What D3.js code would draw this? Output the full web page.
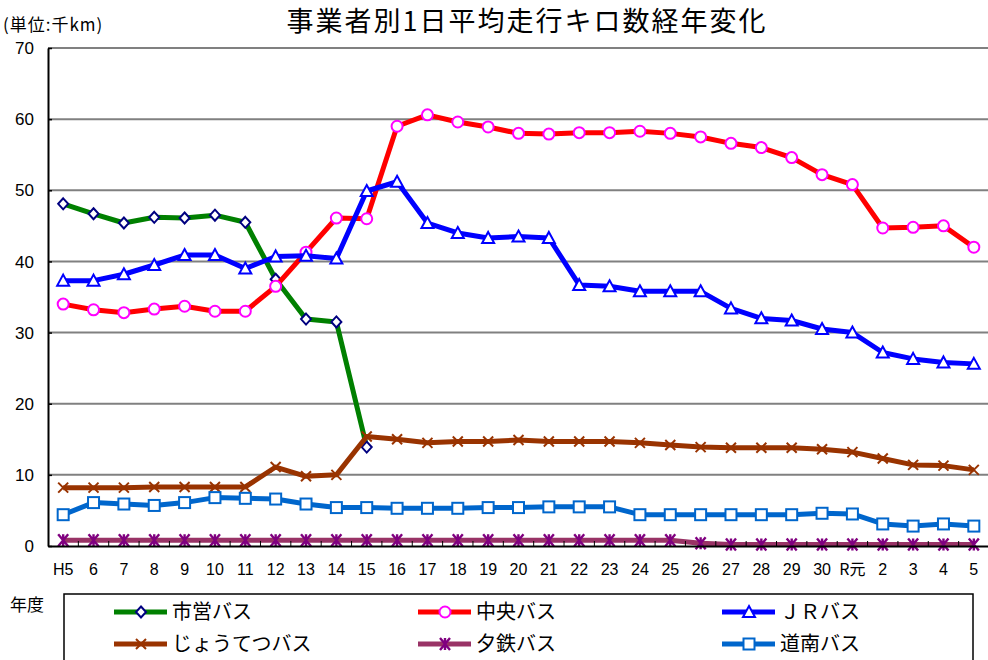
<!DOCTYPE html>
<html lang="ja">
<head>
<meta charset="UTF-8">
<title>事業者別1日平均走行キロ数経年変化</title>
<style>
  body { margin: 0; background: #fff; }
  svg { display: block; }
  .jp { font-family: "Noto Sans CJK JP", "Noto Sans", sans-serif; }
  .num { font-family: "Liberation Sans", Arial, sans-serif; }
</style>
</head>
<body>
<svg id="chart" width="988" height="660"></svg>
<script src="https://cdn.jsdelivr.net/npm/d3@7"></script>
<script>
// 年度
var years = ["H5","6","7","8","9","10","11","12","13","14","15","16","17","18","19","20",
             "21","22","23","24","25","26","27","28","29","30","R元","2","3","4","5"];

// 各事業者の1日平均走行キロ (千km)
var shiei    = [48.1,46.7,45.4,46.2,46.1,46.5,45.5,37.5,31.9,31.5,13.9];
var chuo     = [34.0,33.2,32.8,33.3,33.7,33.0,33.0,36.5,41.3,46.1,46.0,59.0,60.6,59.6,58.9,58.0,
                57.9,58.1,58.1,58.3,58.0,57.5,56.6,56.0,54.6,52.2,50.8,44.7,44.8,45.0,42.0];
var jr       = [37.3,37.3,38.2,39.5,40.9,40.9,39.0,40.7,40.8,40.4,49.9,51.2,45.4,44.0,43.3,43.5,
                43.3,36.7,36.5,35.8,35.8,35.8,33.4,32.0,31.7,30.5,30.0,27.2,26.3,25.8,25.6];
var joutetsu = [8.2,8.2,8.2,8.3,8.3,8.3,8.3,11.1,9.8,10.0,15.4,15.0,14.5,14.7,14.7,14.9,
                14.7,14.7,14.7,14.5,14.2,13.9,13.8,13.8,13.8,13.6,13.2,12.3,11.4,11.3,10.7];
var yutetsu  = [0.8,0.8,0.8,0.8,0.8,0.8,0.8,0.8,0.8,0.8,0.8,0.8,0.8,0.8,0.8,0.8,
                0.8,0.8,0.8,0.8,0.8,0.4,0.2,0.2,0.2,0.2,0.2,0.2,0.2,0.2,0.2];
var donan    = [4.4,6.1,5.9,5.7,6.1,6.8,6.7,6.6,5.9,5.4,5.4,5.3,5.3,5.3,5.4,5.4,
                5.5,5.5,5.5,4.4,4.4,4.4,4.4,4.4,4.4,4.6,4.5,3.1,2.8,3.1,2.8];

var yTicks = [0,10,20,30,40,50,60,70];

var series = [
  {name: "市営バス",       values: shiei,    line: "#008000", mark: "#000080", shape: "diamond"},
  {name: "中央バス",       values: chuo,     line: "#ff0000", mark: "#ff00ff", shape: "circle"},
  {name: "ＪＲバス",       values: jr,       line: "#0000ff", mark: "#0000ff", shape: "triangle"},
  {name: "じょうてつバス", values: joutetsu, line: "#993300", mark: "#993300", shape: "x"},
  {name: "夕鉄バス",       values: yutetsu,  line: "#993366", mark: "#800080", shape: "star"},
  {name: "道南バス",       values: donan,    line: "#0066cc", mark: "#0066cc", shape: "square"}
];

var svg = d3.select("#chart");
var plotLeft = 48, plotRight = 989, plotTop = 48, plotBottom = 546;

var x = d3.scaleBand().domain(years).range([plotLeft, plotRight]);
var y = d3.scaleLinear().domain([0, 70]).range([plotBottom, plotTop]);

// gridlines
svg.append("g").selectAll("line")
  .data(yTicks.filter(function(d){ return d > 0; }))
  .enter().append("line")
  .attr("x1", plotLeft).attr("x2", 988)
  .attr("y1", function(d){ return y(d); }).attr("y2", function(d){ return y(d); })
  .attr("stroke", "#808080").attr("stroke-width", 2);

// markers
function drawMarker(g, shape, color, cx, cy) {
  if (shape === "diamond") {
    g.append("path").attr("d", "M0,-5.5L5,0L0,5.5L-5,0Z")
      .attr("transform", "translate(" + cx + "," + cy + ")")
      .attr("fill", "#fff").attr("stroke", color).attr("stroke-width", 2);
  } else if (shape === "circle") {
    g.append("circle").attr("cx", cx).attr("cy", cy).attr("r", 5.5)
      .attr("fill", "#fff").attr("stroke", color).attr("stroke-width", 2);
  } else if (shape === "triangle") {
    g.append("path").attr("d", "M0,-6L6,5L-6,5Z")
      .attr("transform", "translate(" + cx + "," + cy + ")")
      .attr("fill", "#fff").attr("stroke", color).attr("stroke-width", 2);
  } else if (shape === "square") {
    g.append("rect").attr("x", cx - 5.5).attr("y", cy - 5.5)
      .attr("width", 11).attr("height", 11)
      .attr("fill", "#fff").attr("stroke", color).attr("stroke-width", 2);
  } else if (shape === "x") {
    g.append("path").attr("d", "M-5,-5L5,5M5,-5L-5,5")
      .attr("transform", "translate(" + cx + "," + cy + ")")
      .attr("stroke", color).attr("stroke-width", 2).attr("fill", "none");
  } else if (shape === "star") {
    g.append("path").attr("d", "M-5,-6L5,6M5,-6L-5,6M0,-6L0,6")
      .attr("transform", "translate(" + cx + "," + cy + ")")
      .attr("stroke", color).attr("stroke-width", 2.4).attr("fill", "none");
  }
}

var line = d3.line()
  .x(function(d, i){ return x(years[i]) + x.bandwidth() / 2; })
  .y(function(d){ return y(d); });

series.forEach(function(s) {
  var g = svg.append("g");
  g.append("path").datum(s.values)
    .attr("d", line)
    .attr("fill", "none")
    .attr("stroke", s.line)
    .attr("stroke-width", 5)
    .attr("stroke-linejoin", "round");
  s.values.forEach(function(v, i) {
    drawMarker(g, s.shape, s.mark, x(years[i]) + x.bandwidth() / 2, y(v));
  });
});

// y axis
var yAxis = svg.append("g").attr("transform", "translate(" + plotLeft + ",0)")
  .call(d3.axisRight(y).tickValues(yTicks).tickSize(4).tickSizeOuter(0).tickFormat(""));
yAxis.select(".domain").attr("stroke", "#000").attr("stroke-width", 2);
yAxis.selectAll(".tick line").attr("stroke", "#000").attr("stroke-width", 1.5);

svg.append("g").selectAll("text")
  .data(yTicks).enter().append("text")
  .attr("class", "num")
  .attr("x", 34).attr("y", function(d){ return y(d); })
  .attr("dy", "0.36em")
  .attr("text-anchor", "end")
  .attr("font-size", 17)
  .text(function(d){ return d; });

// x axis (ticks between categories, drawn over the lowest line)
var xAxis = svg.append("g").attr("transform", "translate(0," + plotBottom + ")")
  .call(d3.axisTop(x).tickSize(0).tickSizeOuter(0).tickFormat(""));
xAxis.select(".domain").attr("stroke", "#000").attr("stroke-width", 2);
svg.append("g").selectAll("line")
  .data(years.slice(1)).enter().append("line")
  .attr("x1", function(d){ return x(d); }).attr("x2", function(d){ return x(d); })
  .attr("y1", plotBottom).attr("y2", plotBottom - 5)
  .attr("stroke", "#000").attr("stroke-width", 1);

svg.append("g").selectAll("text")
  .data(years).enter().append("text")
  .attr("class", function(d){ return d === "R元" ? "jp" : "num"; })
  .attr("x", function(d){ return x(d) + x.bandwidth() / 2; })
  .attr("y", 575)
  .attr("text-anchor", "middle")
  .attr("font-size", 16)
  .text(function(d){ return d; });

// title & labels
svg.append("text").attr("class", "jp")
  .attr("x", 527).attr("y", 31)
  .attr("text-anchor", "middle")
  .attr("font-size", 27)
  .attr("letter-spacing", 2)
  .text("事業者別1日平均走行キロ数経年変化");

svg.append("text").attr("class", "jp")
  .attr("x", 3).attr("y", 31)
  .attr("font-size", 17)
  .attr("letter-spacing", 1)
  .text("(単位:千km)");

svg.append("text").attr("class", "jp")
  .attr("x", 10).attr("y", 611)
  .attr("font-size", 17)
  .text("年度");

// legend
svg.append("rect")
  .attr("x", 64).attr("y", 594).attr("width", 909).attr("height", 70)
  .attr("fill", "#fff").attr("stroke", "#000").attr("stroke-width", 1.5);

var legCols = [114, 418, 722];
var legRows = [612, 644];
series.forEach(function(s, i) {
  var lx = legCols[i % 3], ly = legRows[Math.floor(i / 3)];
  var g = svg.append("g");
  g.append("line").attr("x1", lx).attr("x2", lx + 53)
    .attr("y1", ly).attr("y2", ly)
    .attr("stroke", s.line).attr("stroke-width", 5);
  drawMarker(g, s.shape, s.mark, lx + 27, ly);
  g.append("text").attr("class", "jp")
    .attr("x", lx + 58).attr("y", ly).attr("dy", "0.36em")
    .attr("font-size", 20)
    .text(s.name);
});
</script>
</body>
</html>
